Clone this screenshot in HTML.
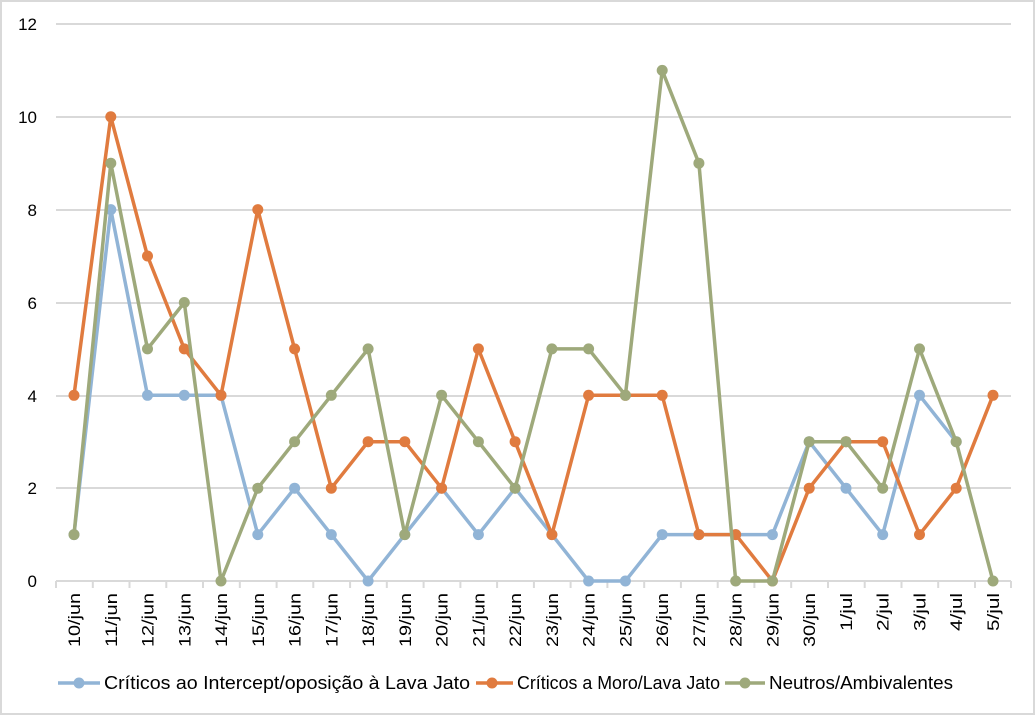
<!DOCTYPE html>
<html><head><meta charset="utf-8"><style>
html,body{margin:0;padding:0;background:#fff}
svg{display:block}
text{font-family:"Liberation Sans",sans-serif;fill:#000}
</style></head><body>
<svg width="1036" height="716" viewBox="0 0 1036 716" xmlns="http://www.w3.org/2000/svg">
<defs>
<marker id="mb" viewBox="0 0 12 12" refX="6" refY="6" markerWidth="12" markerHeight="12" markerUnits="userSpaceOnUse"><circle cx="6" cy="6" r="5.5" fill="#91b4d6"/></marker>
<marker id="mo" viewBox="0 0 12 12" refX="6" refY="6" markerWidth="12" markerHeight="12" markerUnits="userSpaceOnUse"><circle cx="6" cy="6" r="5.5" fill="#e07b3f"/></marker>
<marker id="mg" viewBox="0 0 12 12" refX="6" refY="6" markerWidth="12" markerHeight="12" markerUnits="userSpaceOnUse"><circle cx="6" cy="6" r="5.5" fill="#9ea97b"/></marker>
</defs>
<rect x="1" y="1" width="1033" height="713" fill="#fff" stroke="#d9d9d9" stroke-width="2"/>
<g stroke="#d9d9d9" stroke-width="2">
<line x1="56" y1="24" x2="1011" y2="24"/>
<line x1="56" y1="117" x2="1011" y2="117"/>
<line x1="56" y1="210" x2="1011" y2="210"/>
<line x1="56" y1="303" x2="1011" y2="303"/>
<line x1="56" y1="396" x2="1011" y2="396"/>
<line x1="56" y1="488" x2="1011" y2="488"/>
<line x1="56" y1="581" x2="1011" y2="581"/>
<line x1="56" y1="581" x2="56" y2="588"/><line x1="92.8" y1="581" x2="92.8" y2="588"/><line x1="129.5" y1="581" x2="129.5" y2="588"/><line x1="166.3" y1="581" x2="166.3" y2="588"/><line x1="203" y1="581" x2="203" y2="588"/><line x1="239.8" y1="581" x2="239.8" y2="588"/><line x1="276.6" y1="581" x2="276.6" y2="588"/><line x1="313.3" y1="581" x2="313.3" y2="588"/><line x1="350.1" y1="581" x2="350.1" y2="588"/><line x1="386.8" y1="581" x2="386.8" y2="588"/><line x1="423.6" y1="581" x2="423.6" y2="588"/><line x1="460.4" y1="581" x2="460.4" y2="588"/><line x1="497.1" y1="581" x2="497.1" y2="588"/><line x1="533.9" y1="581" x2="533.9" y2="588"/><line x1="570.6" y1="581" x2="570.6" y2="588"/><line x1="607.4" y1="581" x2="607.4" y2="588"/><line x1="644.2" y1="581" x2="644.2" y2="588"/><line x1="680.9" y1="581" x2="680.9" y2="588"/><line x1="717.7" y1="581" x2="717.7" y2="588"/><line x1="754.4" y1="581" x2="754.4" y2="588"/><line x1="791.2" y1="581" x2="791.2" y2="588"/><line x1="828" y1="581" x2="828" y2="588"/><line x1="864.7" y1="581" x2="864.7" y2="588"/><line x1="901.5" y1="581" x2="901.5" y2="588"/><line x1="938.2" y1="581" x2="938.2" y2="588"/><line x1="975" y1="581" x2="975" y2="588"/><line x1="1011" y1="581" x2="1011" y2="588"/>
</g>
<g font-size="17" text-anchor="end">
<text x="37" y="30">12</text><text x="37" y="123">10</text><text x="37" y="216">8</text><text x="37" y="309">6</text><text x="37" y="402">4</text><text x="37" y="494">2</text><text x="37" y="587">0</text>
</g>
<g font-size="17" text-anchor="end">
<text transform="translate(80,593) rotate(-90)" textLength="54" lengthAdjust="spacingAndGlyphs">10/jun</text>
<text transform="translate(116.8,593) rotate(-90)" textLength="54" lengthAdjust="spacingAndGlyphs">11/jun</text>
<text transform="translate(153.5,593) rotate(-90)" textLength="54" lengthAdjust="spacingAndGlyphs">12/jun</text>
<text transform="translate(190.3,593) rotate(-90)" textLength="54" lengthAdjust="spacingAndGlyphs">13/jun</text>
<text transform="translate(227,593) rotate(-90)" textLength="54" lengthAdjust="spacingAndGlyphs">14/jun</text>
<text transform="translate(263.8,593) rotate(-90)" textLength="54" lengthAdjust="spacingAndGlyphs">15/jun</text>
<text transform="translate(300.6,593) rotate(-90)" textLength="54" lengthAdjust="spacingAndGlyphs">16/jun</text>
<text transform="translate(337.3,593) rotate(-90)" textLength="54" lengthAdjust="spacingAndGlyphs">17/jun</text>
<text transform="translate(374.1,593) rotate(-90)" textLength="54" lengthAdjust="spacingAndGlyphs">18/jun</text>
<text transform="translate(410.8,593) rotate(-90)" textLength="54" lengthAdjust="spacingAndGlyphs">19/jun</text>
<text transform="translate(447.6,593) rotate(-90)" textLength="54" lengthAdjust="spacingAndGlyphs">20/jun</text>
<text transform="translate(484.4,593) rotate(-90)" textLength="54" lengthAdjust="spacingAndGlyphs">21/jun</text>
<text transform="translate(521.1,593) rotate(-90)" textLength="54" lengthAdjust="spacingAndGlyphs">22/jun</text>
<text transform="translate(557.9,593) rotate(-90)" textLength="54" lengthAdjust="spacingAndGlyphs">23/jun</text>
<text transform="translate(594.6,593) rotate(-90)" textLength="54" lengthAdjust="spacingAndGlyphs">24/jun</text>
<text transform="translate(631.4,593) rotate(-90)" textLength="54" lengthAdjust="spacingAndGlyphs">25/jun</text>
<text transform="translate(668.2,593) rotate(-90)" textLength="54" lengthAdjust="spacingAndGlyphs">26/jun</text>
<text transform="translate(704.9,593) rotate(-90)" textLength="54" lengthAdjust="spacingAndGlyphs">27/jun</text>
<text transform="translate(741.7,593) rotate(-90)" textLength="54" lengthAdjust="spacingAndGlyphs">28/jun</text>
<text transform="translate(778.4,593) rotate(-90)" textLength="54" lengthAdjust="spacingAndGlyphs">29/jun</text>
<text transform="translate(815.2,593) rotate(-90)" textLength="54" lengthAdjust="spacingAndGlyphs">30/jun</text>
<text transform="translate(852,593) rotate(-90)" textLength="38" lengthAdjust="spacingAndGlyphs">1/jul</text>
<text transform="translate(888.7,593) rotate(-90)" textLength="38" lengthAdjust="spacingAndGlyphs">2/jul</text>
<text transform="translate(925.5,593) rotate(-90)" textLength="38" lengthAdjust="spacingAndGlyphs">3/jul</text>
<text transform="translate(962.2,593) rotate(-90)" textLength="38" lengthAdjust="spacingAndGlyphs">4/jul</text>
<text transform="translate(999,593) rotate(-90)" textLength="38" lengthAdjust="spacingAndGlyphs">5/jul</text>
</g>
<g fill="none" stroke-width="3.5" stroke-linejoin="round">
<polyline stroke="#91b4d6" marker-start="url(#mb)" marker-mid="url(#mb)" marker-end="url(#mb)" points="74,534.6 110.8,209.6 147.5,395.3 184.3,395.3 221,395.3 257.8,534.6 294.6,488.2 331.3,534.6 368.1,581 404.8,534.6 441.6,488.2 478.4,534.6 515.1,488.2 551.9,534.6 588.6,581 625.4,581 662.2,534.6 698.9,534.6 735.7,534.6 772.4,534.6 809.2,441.7 846,488.2 882.7,534.6 919.5,395.3 956.2,441.7"/>
<polyline stroke="#e07b3f" marker-start="url(#mo)" marker-mid="url(#mo)" marker-end="url(#mo)" points="74,395.3 110.8,116.8 147.5,256 184.3,348.9 221,395.3 257.8,209.6 294.6,348.9 331.3,488.2 368.1,441.7 404.8,441.7 441.6,488.2 478.4,348.9 515.1,441.7 551.9,534.6 588.6,395.3 625.4,395.3 662.2,395.3 698.9,534.6 735.7,534.6 772.4,581 809.2,488.2 846,441.7 882.7,441.7 919.5,534.6 956.2,488.2 993,395.3"/>
<polyline stroke="#9ea97b" marker-start="url(#mg)" marker-mid="url(#mg)" marker-end="url(#mg)" points="74,534.6 110.8,163.2 147.5,348.9 184.3,302.5 221,581 257.8,488.2 294.6,441.7 331.3,395.3 368.1,348.9 404.8,534.6 441.6,395.3 478.4,441.7 515.1,488.2 551.9,348.9 588.6,348.9 625.4,395.3 662.2,70.4 698.9,163.2 735.7,581 772.4,581 809.2,441.7 846,441.7 882.7,488.2 919.5,348.9 956.2,441.7 993,581"/>
</g>
<g stroke-width="3.5">
<line x1="58" y1="683" x2="100" y2="683" stroke="#91b4d6"/><circle cx="79" cy="683" r="5.5" fill="#91b4d6"/>
<line x1="476" y1="683" x2="513" y2="683" stroke="#e07b3f"/><circle cx="492" cy="683" r="5.5" fill="#e07b3f"/>
<line x1="725" y1="683" x2="765" y2="683" stroke="#9ea97b"/><circle cx="745" cy="683" r="5.5" fill="#9ea97b"/>
</g>
<g font-size="18">
<text x="104" y="689" textLength="366" lengthAdjust="spacingAndGlyphs">Críticos ao Intercept/oposição à Lava Jato</text>
<text x="517" y="689" textLength="203" lengthAdjust="spacingAndGlyphs">Críticos a Moro/Lava Jato</text>
<text x="769" y="689" textLength="184" lengthAdjust="spacingAndGlyphs">Neutros/Ambivalentes</text>
</g>
</svg>
</body></html>
